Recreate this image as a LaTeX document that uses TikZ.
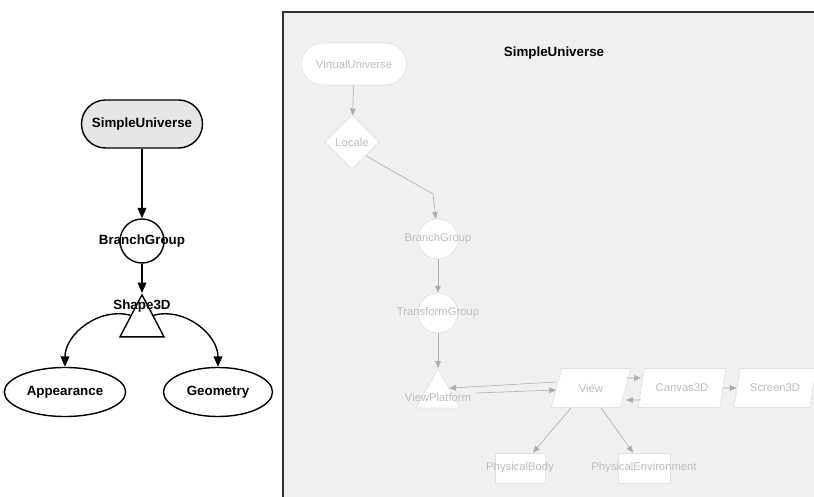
\documentclass[tikz,border=0pt]{standalone}
\usepackage{fontspec}
\setmainfont{Liberation Sans}
\usetikzlibrary{shapes.geometric,arrows.meta}
\definecolor{sufill}{HTML}{E6E6E6}
\definecolor{panelbg}{HTML}{F0F0F0}
\definecolor{fainttxt}{HTML}{BDBDBD}
\definecolor{faintln}{HTML}{ADADAD}
\definecolor{faintbd}{HTML}{E2E2E2}
\begin{document}
\begin{tikzpicture}[x=0.025cm, y=-0.025cm, line width=1pt,
    font=\fontsize{9.5}{11}\selectfont\bfseries,
    tip/.style={-{Triangle[length=2.6mm,width=2.2mm]}},
    ftip/.style={faintln, line width=0.4pt, -{Triangle[length=1.7mm,width=1.4mm]}},
    fnode/.style={draw=faintbd, fill=white, text=fainttxt, line width=0.5pt,
        inner sep=0pt, font=\fontsize{8}{10}\selectfont},
    flabel/.style={text=fainttxt, font=\fontsize{8}{10}\selectfont},
    tri/.style={isosceles triangle, shape border rotate=90,
        isosceles triangle stretches, inner sep=0pt, anchor=apex},
    para/.style={trapezium, trapezium stretches=true, trapezium left angle=62,
        trapezium right angle=118, minimum height=0.975cm}]
    \useasboundingbox (0,0) rectangle (814,497);

    % left: scene graph
    \node[draw, fill=sufill, rounded corners=0.6cm, minimum width=3.025cm,
        minimum height=1.2cm] (su) at (142,124) {SimpleUniverse};
    \node[draw, circle, minimum size=1.1cm, inner sep=0pt,
        label=center:BranchGroup] (bg) at (142,241) {};
    \node[draw, tri, minimum width=1.1cm, minimum height=1.05cm]
        (shp) at (142,293) {};
    \node (shptxt) at (142,306) {Shape3D};
    \node[draw, ellipse, minimum width=2.725cm, minimum height=1.225cm]
        (app) at (65,392) {Appearance};
    \node[draw, ellipse, minimum width=2.725cm, minimum height=1.225cm]
        (geo) at (218,392) {Geometry};
    \draw[tip] (su) -- (bg);
    \draw[tip] (bg) -- (shp.apex);
    \draw[tip] (shp.left side) to[out=165, in=90] (app.north);
    \draw[tip] (shp.right side) to[out=15, in=90] (geo.north);

    % right: view branch panel
    \fill[panelbg] (283,12) rectangle (814,497);
    \draw[line width=1.6pt, black!80] (283,497) -- (283,12) -- (814,12);
    \node (title) at (554,53) {SimpleUniverse};

    \node[fnode, rounded corners=0.525cm, minimum width=2.625cm,
        minimum height=1.05cm] (vu) at (354,64) {VirtualUniverse};
    \node[fnode, diamond, minimum width=1.35cm, minimum height=1.35cm]
        (locale) at (352,142) {Locale};
    \coordinate (lcbend) at (433,194);
    \node[fnode, circle, minimum size=1cm, label={[flabel]center:BranchGroup}]
        (bgr) at (438,239) {};
    \node[fnode, circle, minimum size=1cm, label={[flabel]center:TransformGroup}]
        (tg) at (438,313) {};
    \node[fnode, tri, minimum width=1.1cm, minimum height=0.975cm]
        (vp) at (438,368) {};
    \node[flabel] (vptxt) at (438,397) {ViewPlatform};
    \node[fnode, para, minimum width=2cm] (view) at (591,388) {View};
    \node[fnode, para, minimum width=2.2cm] (canvas) at (682,388) {Canvas3D};
    \node[fnode, para, minimum width=2.05cm] (screen) at (775,388) {Screen3D};
    \node[fnode, minimum width=1.25cm, minimum height=0.75cm,
        label={[flabel]center:PhysicalBody}] (pb) at (520,468) {};
    \node[fnode, minimum width=1.3cm, minimum height=0.75cm,
        label={[flabel]center:PhysicalEnvironment}] (pe) at (644,468) {};

    \draw[ftip] (vu) -- (locale);
    \draw[ftip] (locale.south east) -- (lcbend) -- (bgr);
    \draw[ftip] (bgr) -- (tg);
    \draw[ftip] (tg) -- (vp.apex);
    \draw[ftip] ([yshift=1.5mm]view.west) -- (vp.right side);
    \draw[ftip] ([yshift=1mm]vptxt.east) -- ([yshift=-0.5mm]view.west);
    \draw[ftip] ([yshift=2.5mm]view.east) -- ([yshift=2.5mm]canvas.west);
    \draw[ftip] ([yshift=-3mm]canvas.west) -- ([yshift=-3mm]view.east);
    \draw[ftip] (canvas.east) -- (screen.west);
    \draw[ftip] ([xshift=-5mm]view.south) -- (pb);
    \draw[ftip] ([xshift=2.5mm]view.south) -- (pe);
\end{tikzpicture}
\end{document}
